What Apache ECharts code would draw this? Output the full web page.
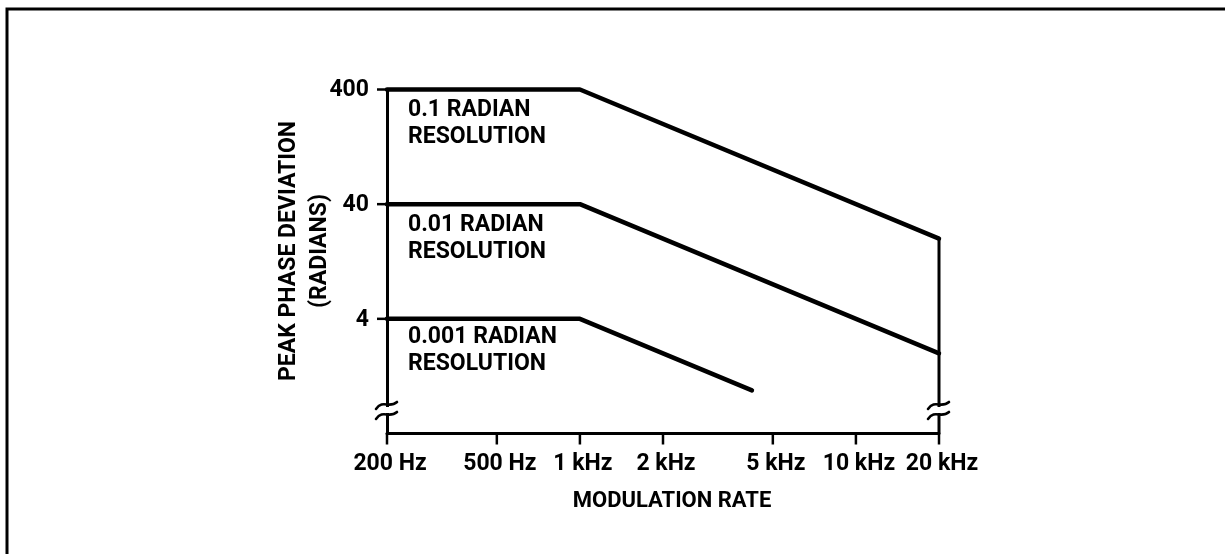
<!DOCTYPE html>
<html>
<head>
<meta charset="utf-8">
<script src="https://cdn.jsdelivr.net/npm/echarts@6/dist/echarts.min.js"></script>
<style>
  html, body { margin: 0; padding: 0; background: #fff; }
  #chart { width: 1225px; height: 554px; }
</style>
</head>
<body>
<div id="chart"></div>
<script>
// Frequency axis (Hz) and its tick labels
const xTicks = [200, 500, 1000, 2000, 5000, 10000, 20000];
const xTickLabels = ['200 Hz', '500 Hz', '1 kHz', '2 kHz', '5 kHz', '10 kHz', '20 kHz'];
// Deviation axis (radians) and its tick labels
const yTicks = [4, 40, 400];
const yTickLabels = ['4', '40', '400'];

// Maximum peak phase deviation vs modulation rate, one curve per resolution
const res01 = [[200, 400], [1000, 400], [20000, 20]];
const res001 = [[200, 40], [1000, 40], [20000, 2]];
const res0001 = [[200, 4], [1000, 4], [4200, 0.95]];
// Upper end of the modulation range
const rateLimit = [[20000, 20], [20000, 0.4]];

const curveNames = ['0.1 RADIAN\nRESOLUTION', '0.01 RADIAN\nRESOLUTION', '0.001 RADIAN\nRESOLUTION'];
const curveData = [res01, res001, res0001];

const xTitle = 'MODULATION RATE';
const yTitle = 'PEAK PHASE DEVIATION\n(RADIANS)';

const FONT = 'Roboto, "Liberation Sans", Arial, sans-serif';
const chart = echarts.init(document.getElementById('chart'), null, { renderer: 'canvas' });

const lineSeries = curveData.map((d, i) => ({
  name: curveNames[i],
  type: 'line',
  data: d,
  showSymbol: false,
  silent: true,
  clip: false,
  lineStyle: { color: '#000', width: 4.5, cap: 'round', join: 'round' },
  z: 3
}));
lineSeries.push({
  name: 'limit',
  type: 'line',
  data: rateLimit,
  showSymbol: false,
  silent: true,
  clip: false,
  lineStyle: { color: '#000', width: 3, cap: 'butt' },
  z: 2
});

chart.setOption({
  animation: false,
  backgroundColor: '#fff',
  grid: { left: 387, top: 89.5, width: 552, height: 344, containLabel: false },
  xAxis: {
    type: 'log', logBase: 10, min: 200, max: 20000,
    axisLine: { show: true, onZero: false, lineStyle: { color: '#000', width: 3 } },
    axisTick: { show: false }, axisLabel: { show: false }, splitLine: { show: false }
  },
  yAxis: {
    type: 'log', logBase: 10, min: 0.4, max: 400,
    axisLine: { show: true, onZero: false, lineStyle: { color: '#000', width: 3 } },
    axisTick: { show: false }, axisLabel: { show: false }, splitLine: { show: false }
  },
  series: lineSeries
});

function px(x, y) { return chart.convertToPixel({ gridIndex: 0 }, [x, y]); }

function txt(text, x, y, align, valign, extra) {
  return Object.assign({
    type: 'text', z: 10, silent: true,
    style: {
      text: text, x: x, y: y, fill: '#000',
      fontFamily: FONT, fontSize: 23, fontWeight: 'bold',
      align: align, verticalAlign: valign,
      textAlign: align, textVerticalAlign: valign, lineHeight: 27
    }
  }, extra || {});
}

// Axis break: white gap on the line plus two wavy strokes across it
function breakMark(cx, cy) {
  const s = { stroke: '#000', lineWidth: 2.6, fill: null, lineCap: 'round' };
  const wave = (dy) => ({
    type: 'bezierCurve', z: 9, silent: true, style: s,
    shape: {
      x1: cx - 11, y1: cy + dy + 3,
      cpx1: cx - 4, cpy1: cy + dy - 7,
      cpx2: cx + 2, cpy2: cy + dy + 3,
      x2: cx + 10, y2: cy + dy - 4
    }
  });
  return [
    { type: 'rect', z: 8, silent: true, shape: { x: cx - 4, y: cy - 3, width: 8, height: 6 }, style: { fill: '#fff' } },
    wave(-4),
    wave(6)
  ];
}

const g = [];
const bottom = px(200, 0.4);
const axisY = bottom[1];
const axisX = bottom[0];

// Outer frame (top and left edges)
g.push({ type: 'polyline', silent: true, z: 1, shape: { points: [[7, 554], [7, 9], [1225, 9]] }, style: { stroke: '#000', lineWidth: 3, fill: null } });

// Frequency ticks and labels
xTicks.forEach((v, i) => {
  const p = px(v, 0.4);
  g.push({ type: 'line', silent: true, z: 5, shape: { x1: p[0], y1: axisY, x2: p[0], y2: axisY + 11 }, style: { stroke: '#000', lineWidth: 2.5 } });
  g.push(txt(xTickLabels[i], p[0] + 3, axisY + 31, 'center', 'middle'));
});

// Deviation ticks and labels
yTicks.forEach((v, i) => {
  const p = px(200, v);
  g.push({ type: 'line', silent: true, z: 5, shape: { x1: axisX - 10, y1: p[1], x2: axisX, y2: p[1] }, style: { stroke: '#000', lineWidth: 2.5 } });
  g.push(txt(yTickLabels[i], axisX - 18, p[1] + 1, 'right', 'middle'));
});

// Curve captions
const capX = axisX + 21;
const capY = [124, 239, 351];
curveNames.forEach((n, i) => g.push(txt(n, capX, capY[i], 'left', 'middle')));

// Axis titles
const xt = txt(xTitle, 672, 501, 'center', 'middle');
xt.style.fontSize = 22;
g.push(xt);
const yt = txt(yTitle, 0, 0, 'center', 'middle', { x: 305, y: 251, rotation: Math.PI / 2 });
yt.style.lineHeight = 31;
g.push(yt);

// Axis breaks on the left axis and on the 20 kHz edge
const right = px(20000, 0.4);
breakMark(axisX, 410).forEach(e => g.push(e));
breakMark(right[0], 410).forEach(e => g.push(e));

chart.setOption({ graphic: { elements: g } });
</script>
</body>
</html>
